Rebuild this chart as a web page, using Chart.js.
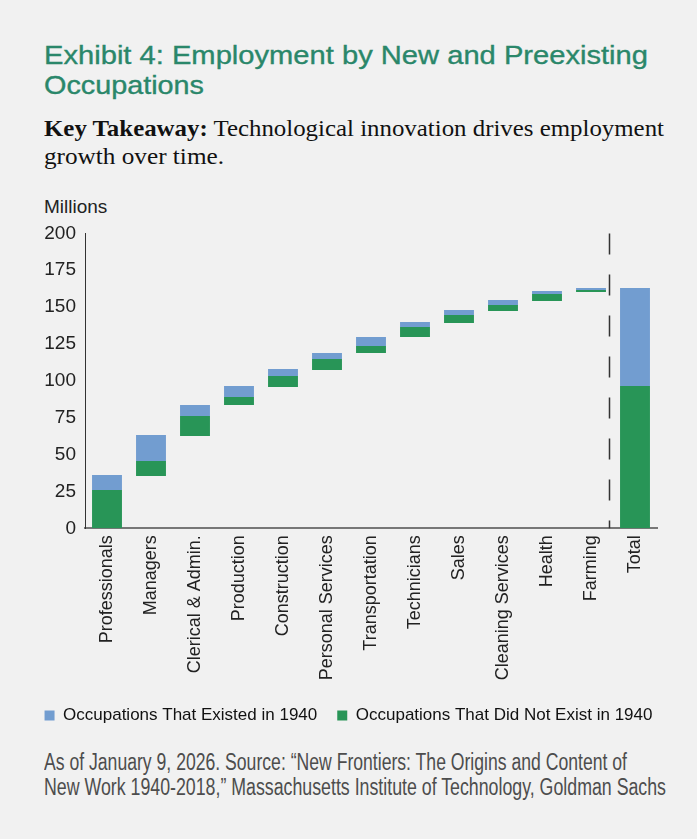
<!DOCTYPE html>
<html>
<head>
<meta charset="utf-8">
<script src="https://cdn.jsdelivr.net/npm/chart.js@4.4.1/dist/chart.umd.min.js"></script>
<style>
  html, body { margin: 0; padding: 0; background: #f1f1f1; }
  body { width: 697px; height: 839px; position: relative; overflow: hidden; font-family: "Liberation Sans", Arial, sans-serif; }
  .t { position: absolute; left: 44px; white-space: nowrap; transform-origin: 0 0; }
  .title { font-size: 26px; line-height: 29.5px; color: #2a876a; -webkit-text-stroke: 0.35px #2a876a; }
  .sub { font-family: "Liberation Serif", "Times New Roman", serif; font-size: 24px; line-height: 28px; color: #111; }
  .foot { font-size: 23px; line-height: 25px; color: #4d4d4d; }
  #units { font-size: 19px; line-height: 19px; color: #222; }
  #chartBox { position: absolute; left: 0; top: 213px; width: 697px; height: 521px; }
</style>
</head>
<body>
<div class="t title" id="title1" data-w="604" style="top:41px;">Exhibit 4: Employment by New and Preexisting</div>
<div class="t title" id="title2" data-w="160" style="top:70.5px;">Occupations</div>
<div class="t sub" id="sub1" data-w="620" style="top:114px;"><b>Key Takeaway:</b> Technological innovation drives employment</div>
<div class="t sub" id="sub2" data-w="180" style="top:142px;">growth over time.</div>
<div class="t" id="units" style="top:197px;">Millions</div>
<div id="chartBox"><canvas id="c" width="697" height="521"></canvas></div>
<div class="t foot" id="foot1" data-w="583" style="top:750px;">As of January 9, 2026. Source: “New Frontiers: The Origins and Content of</div>
<div class="t foot" id="foot2" data-w="622" style="top:775px;">New Work 1940-2018,” Massachusetts Institute of Technology, Goldman Sachs</div>

<script>
// ---- data (millions) ----
const categories = ['Professionals', 'Managers', 'Clerical & Admin.', 'Production', 'Construction',
  'Personal Services', 'Transportation', 'Technicians', 'Sales', 'Cleaning Services', 'Health', 'Farming', 'Total'];
// bottom of each floating bar
const barBase = [0, 35.5, 62.6, 83.6, 95.8, 107.3, 118.9, 129.7, 139.2, 147.3, 154.1, 160.2, 0];
// occupations that did not exist in 1940 (green segment height)
const newOccupations = [26.0, 10.1, 13.6, 5.4, 7.5, 7.5, 4.7, 6.8, 5.4, 4.1, 4.8, 1.4, 96.5];
// occupations that existed in 1940 (blue segment height)
const existingOccupations = [10.2, 17.7, 7.4, 7.5, 4.7, 4.1, 6.1, 3.4, 3.4, 3.4, 2.0, 1.3, 66.4];
const yTickValues = [0, 25, 50, 75, 100, 125, 150, 175, 200];
const seriesLabels = ['Occupations That Existed in 1940', 'Occupations That Did Not Exist in 1940'];

// fit text line widths
document.querySelectorAll('[data-w]').forEach(el => {
  const w = el.getBoundingClientRect().width;
  const target = parseFloat(el.getAttribute('data-w'));
  el.style.transform = 'scaleX(' + (target / w) + ')';
});

const BLUE = '#729dd0';
const GREEN = '#289557';
const FONT = '"Liberation Sans", Arial, sans-serif';

const greenRanges = categories.map((c, i) => [barBase[i], barBase[i] + newOccupations[i]]);
const blueRanges = categories.map((c, i) => [barBase[i] + newOccupations[i], barBase[i] + newOccupations[i] + existingOccupations[i]]);

const dashPlugin = {
  id: 'dashLine',
  afterUpdate(chart) {
    // centre the legend on the whole canvas rather than on the padded layout box
    const lg = chart.legend;
    if (lg) { lg.left += 20; lg.right += 20; lg.adjustHitBoxes(); }
  },
  afterDatasetsDraw(chart) {
    const xs = chart.scales.x, area = chart.chartArea;
    const n = categories.length;
    const x0 = xs.getPixelForValue(n - 2), x1 = xs.getPixelForValue(n - 1);
    const x = Math.round(x0 + 0.40 * (x1 - x0)) + 0.5;
    const ctx = chart.ctx;
    ctx.save();
    ctx.strokeStyle = '#333';
    ctx.lineWidth = 1.5;
    ctx.setLineDash([21, 20]);
    ctx.beginPath();
    ctx.moveTo(x, area.top);
    ctx.lineTo(x, area.bottom);
    ctx.stroke();
    ctx.restore();
  }
};

new Chart(document.getElementById('c'), {
  type: 'bar',
  data: {
    labels: categories,
    datasets: [
      { label: seriesLabels[0], data: blueRanges, backgroundColor: BLUE, grouped: false,
        barPercentage: 0.68, categoryPercentage: 1.0, borderWidth: 0 },
      { label: seriesLabels[1], data: greenRanges, backgroundColor: GREEN, grouped: false,
        barPercentage: 0.68, categoryPercentage: 1.0, borderWidth: 0 }
    ]
  },
  options: {
    responsive: false,
    animation: false,
    devicePixelRatio: 1,
    layout: { padding: { left: 0, right: 40, top: 16, bottom: 0 } },
    plugins: {
      legend: {
        position: 'bottom',
        labels: { boxWidth: 10, boxHeight: 10, padding: 20, color: '#111',
          font: { size: 17, family: FONT } }
      },
      tooltip: { enabled: false }
    },
    scales: {
      x: {
        grid: { display: false, drawTicks: false },
        border: { display: true, color: '#777', width: 2 },
        afterFit: s => { s.height = 158.7; },
        ticks: { autoSkip: false, maxRotation: 90, minRotation: 90, padding: 7, color: '#222',
          font: { size: 18, family: FONT } }
      },
      y: {
        min: 0, max: 200,
        afterBuildTicks: s => { s.ticks = yTickValues.map(v => ({ value: v })); },
        afterFit: s => { s.width = 85; },
        grid: { display: false, drawTicks: false },
        border: { display: true, color: '#333', width: 1 },
        ticks: { padding: 9, color: '#222', font: { size: 19, family: FONT } }
      }
    }
  },
  plugins: [dashPlugin]
});
</script>
</body>
</html>
